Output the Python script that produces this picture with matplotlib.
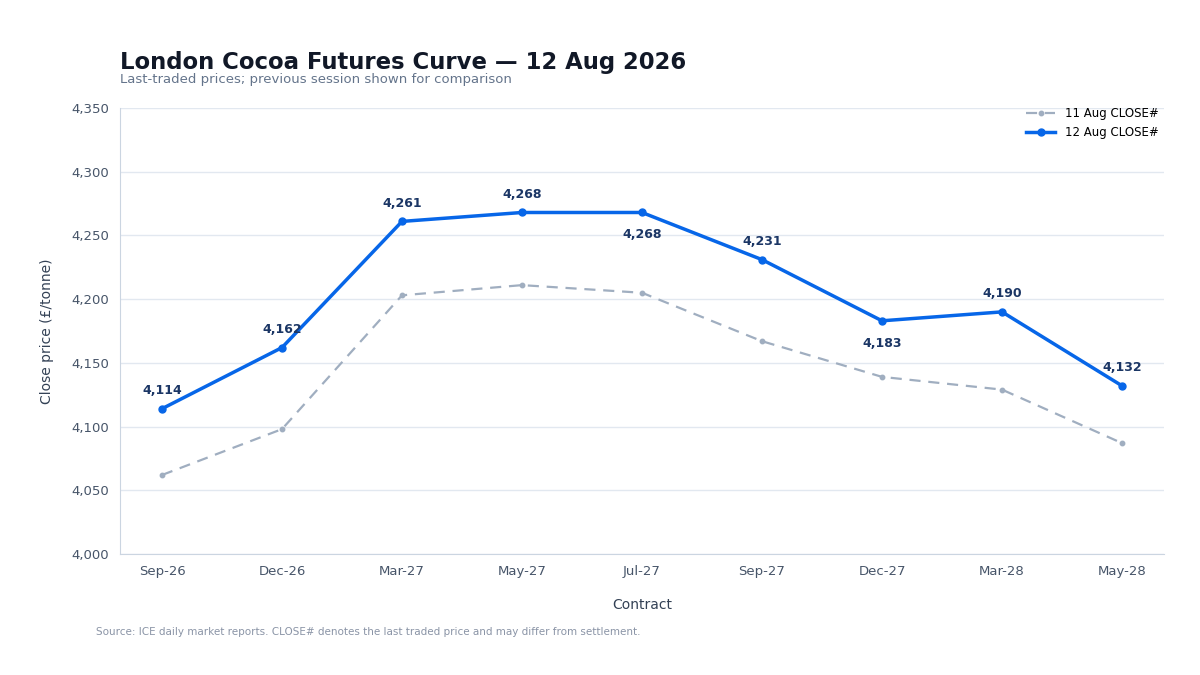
import numpy as np
import matplotlib.pyplot as plt
from matplotlib.ticker import FuncFormatter

contracts = ['Sep-26', 'Dec-26', 'Mar-27', 'May-27', 'Jul-27', 'Sep-27', 'Dec-27', 'Mar-28', 'May-28']
prev_close = [4062, 4098, 4203, 4211, 4205, 4167, 4139, 4129, 4087]
last_close = [4114, 4162, 4261, 4268, 4268, 4231, 4183, 4190, 4132]
# labels drawn below the point for these contracts
below = ['Jul-27', 'Dec-27']

plt.rcParams['font.family'] = ['DejaVu Sans']

fig = plt.figure(figsize=(12, 6.75), dpi=100)
ax = fig.add_axes([0.1, 1 - 554 / 675, 1044 / 1200, 446 / 675])

x = np.arange(len(contracts))
ax.plot(x, prev_close, color='#a0aec0', linestyle=(0, (5, 3.5)), linewidth=1.6,
        marker='o', markersize=3.2, label='11 Aug CLOSE#', zorder=2)
ax.plot(x, last_close, color='#0766e8', linewidth=2.5,
        marker='o', markersize=5, label='12 Aug CLOSE#', zorder=3)

for xi, name, v in zip(x, contracts, last_close):
    dy = -16 if name in below else 13
    ax.annotate(f'{v:,}', (xi, v), xytext=(0, dy), textcoords='offset points',
                ha='center', va='center', fontsize=9, fontweight='bold', color='#1b3665')

ax.set_xlim(-0.35, len(contracts) - 1 + 0.35)
ax.set_ylim(4000, 4350)
ax.set_yticks(np.arange(4000, 4351, 50))
ax.yaxis.set_major_formatter(FuncFormatter(lambda v, p: f'{int(v):,}'))
ax.set_xticks(x)
ax.set_xticklabels(contracts)

ax.grid(axis='y', color='#e2e8f0', linewidth=1)
ax.set_axisbelow(True)
for s in ['top', 'right']:
    ax.spines[s].set_visible(False)
for s in ['left', 'bottom']:
    ax.spines[s].set_color('#cbd5e1')
ax.tick_params(axis='both', length=0, labelsize=9.5, colors='#475569', pad=8)

ax.set_xlabel('Contract', fontsize=10, color='#334155', labelpad=14)
ax.set_ylabel('Close price (£/tonne)', fontsize=10, color='#334155', labelpad=12)

ax.legend(loc='upper right', frameon=False, fontsize=8.5, bbox_to_anchor=(1.005, 1.025),
          handlelength=2.5)

fig.text(0.1, 1 - 62 / 675, 'London Cocoa Futures Curve — 12 Aug 2026', fontsize=16.4,
         fontweight='bold', color='#111827', va='center', ha='left')
fig.text(0.1, 1 - 80 / 675, 'Last-traded prices; previous session shown for comparison',
         fontsize=9.5, color='#64748b', va='center', ha='left')
fig.text(0.08, 1 - 632 / 675,
         'Source: ICE daily market reports. CLOSE# denotes the last traded price and may differ from settlement.',
         fontsize=7.5, color='#8a94a6', va='center', ha='left')

fig.savefig('out.png', dpi=100)
